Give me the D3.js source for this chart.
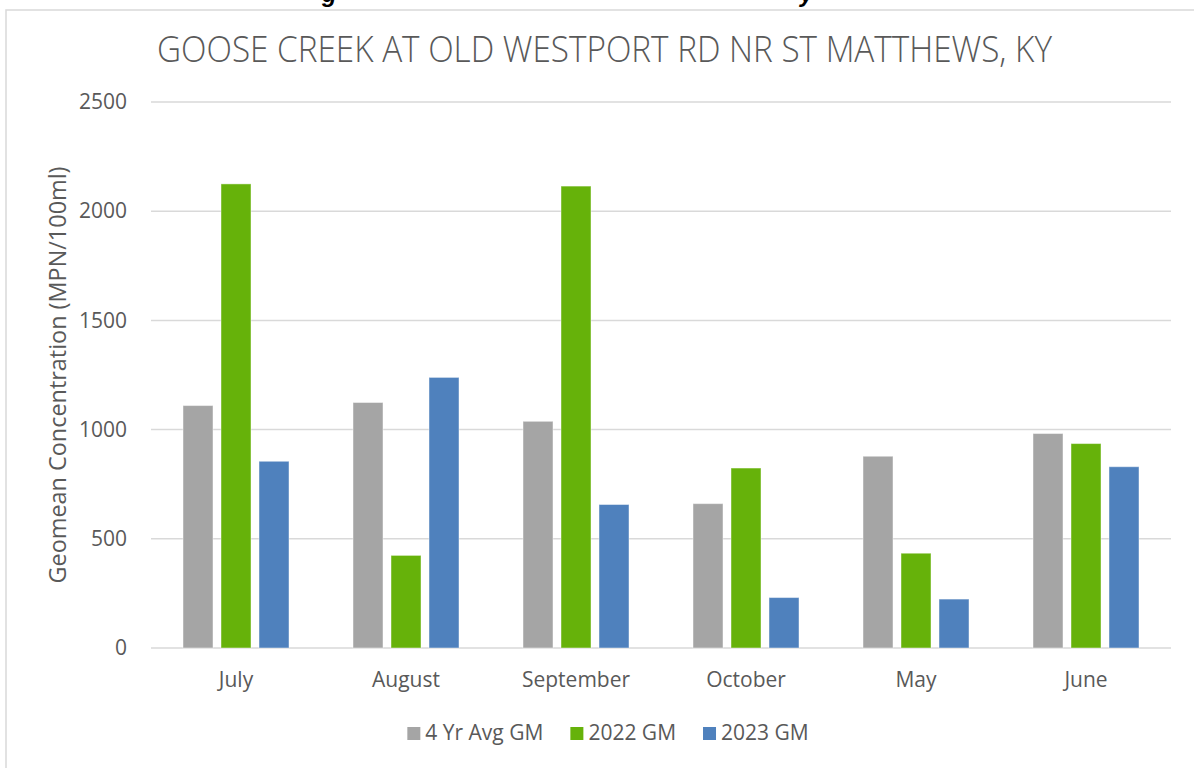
<!DOCTYPE html>
<html>
<head>
<meta charset="utf-8">
<script src="https://cdn.jsdelivr.net/npm/d3@7"></script>
<style>
  body { margin: 0; background: #fff; }
  svg { display: block; font-family: "Open Sans", sans-serif; }
</style>
</head>
<body>
<svg width="1194" height="768"></svg>
<script>
// data
var months = ["July", "August", "September", "October", "May", "June"];
var seriesNames = ["4 Yr Avg GM", "2022 GM", "2023 GM"];
var avgGM  = [1110, 1124, 1038, 661, 878, 982];
var gm2022 = [2125, 424, 2115, 824, 434, 936];
var gm2023 = [855, 1239, 657, 231, 224, 830];
var yTicks = [0, 500, 1000, 1500, 2000, 2500];
var colors = ["#a5a5a5", "#66b20a", "#4f81bd"];

var svg = d3.select("svg"),
    width = +svg.attr("width"),
    height = +svg.attr("height");

var textColor = "#595959",
    gridColor = "#d9d9d9";

var plot = {left: 151, right: 1171, top: 102, bottom: 648};

var values = [avgGM, gm2022, gm2023];
var rows = months.map(function(m, i) {
    return {month: m, vals: seriesNames.map(function(s, j) { return {name: s, value: values[j][i], idx: j}; })};
});

// chart frame (left + top edge, rest is off the picture)
svg.append("path")
    .attr("d", "M6," + (height + 2) + "V10H" + (width + 2))
    .attr("fill", "none")
    .attr("stroke", gridColor)
    .attr("stroke-width", 1.5);

// cut-off heading of the page above the chart, only descenders show
svg.append("g")
    .style("font-family", "'Liberation Sans', sans-serif")
    .style("font-weight", "bold")
    .style("font-style", "italic")
    .style("font-size", "24px")
    .attr("fill", "#000")
    .selectAll("text")
    .data([{t: "g", x: 322}, {t: "y", x: 800}])
    .enter().append("text")
    .attr("x", function(d) { return d.x; })
    .attr("y", 2)
    .text(function(d) { return d.t; });

var x0 = d3.scaleBand()
    .domain(months)
    .range([plot.left, plot.right])
    .paddingInner(64 / 170)
    .paddingOuter(32 / 170);

var x1 = d3.scaleBand()
    .domain(seriesNames)
    .range([0, x0.bandwidth()])
    .paddingInner(8 / 38);

var y = d3.scaleLinear()
    .domain([0, 2500])
    .range([plot.bottom, plot.top]);

// gridlines
svg.append("g")
    .selectAll("line")
    .data(yTicks)
    .enter().append("line")
    .attr("x1", plot.left)
    .attr("x2", plot.right)
    .attr("y1", function(d) { return y(d); })
    .attr("y2", function(d) { return y(d); })
    .attr("stroke", gridColor)
    .attr("stroke-width", 1.5);

// y axis labels
var yAxis = svg.append("g")
    .attr("transform", "translate(" + (plot.left - 24) + ",0)")
    .call(d3.axisLeft(y).tickValues(yTicks).tickSize(0).tickPadding(0).tickFormat(d3.format("d")));
yAxis.select(".domain").remove();
yAxis.selectAll("text")
    .attr("fill", textColor)
    .style("font-family", "'Open Sans', sans-serif")
    .style("font-size", "21px");

// x axis labels
var xAxis = svg.append("g")
    .attr("transform", "translate(0," + plot.bottom + ")")
    .call(d3.axisBottom(x0).tickSize(0).tickPadding(24));
xAxis.select(".domain").remove();
xAxis.selectAll("text")
    .attr("fill", textColor)
    .style("font-family", "'Open Sans', sans-serif")
    .style("font-size", "21px");

// bars
var groups = svg.append("g")
    .selectAll("g")
    .data(rows)
    .enter().append("g")
    .attr("transform", function(d) { return "translate(" + x0(d.month) + ",0)"; });

groups.selectAll("rect")
    .data(function(d) { return d.vals; })
    .enter().append("rect")
    .attr("x", function(d) { return x1(d.name); })
    .attr("width", x1.bandwidth())
    .attr("y", function(d) { return y(d.value); })
    .attr("height", function(d) { return y(0) - y(d.value); })
    .attr("fill", function(d) { return colors[d.idx]; })
    .attr("stroke", "#fff")
    .attr("stroke-opacity", 0.45)
    .attr("stroke-width", 1);

// title
svg.append("text")
    .attr("x", 604.5)
    .attr("y", 62)
    .attr("text-anchor", "middle")
    .attr("fill", textColor)
    .style("font-size", "37px")
    .style("font-weight", 300)
    .attr("textLength", 895)
    .attr("lengthAdjust", "spacingAndGlyphs")
    .text("GOOSE CREEK AT OLD WESTPORT RD NR ST MATTHEWS, KY");

// y axis title
svg.append("text")
    .attr("transform", "translate(66," + ((plot.top + plot.bottom) / 2) + ") rotate(-90)")
    .attr("text-anchor", "middle")
    .attr("fill", textColor)
    .style("font-size", "23px")
    .attr("textLength", 417)
    .attr("lengthAdjust", "spacingAndGlyphs")
    .text("Geomean Concentration (MPN/100ml)");

// legend
var legend = svg.append("g");
var items = legend.selectAll("g")
    .data(seriesNames)
    .enter().append("g");

items.append("rect")
    .attr("width", 13)
    .attr("height", 13)
    .attr("y", -13)
    .attr("fill", function(d, i) { return colors[i]; });

items.append("text")
    .attr("x", 18)
    .attr("y", 0)
    .attr("fill", textColor)
    .style("font-size", "21px")
    .text(function(d) { return d; });

var pos = 0, offsets = [];
items.each(function() {
    offsets.push(pos);
    pos += 18 + this.querySelector("text").getComputedTextLength() + 27;
});
var total = pos - 27;
items.attr("transform", function(d, i) { return "translate(" + offsets[i] + ",0)"; });
legend.attr("transform", "translate(" + (608 - total / 2) + ",740)");
</script>
</body>
</html>
